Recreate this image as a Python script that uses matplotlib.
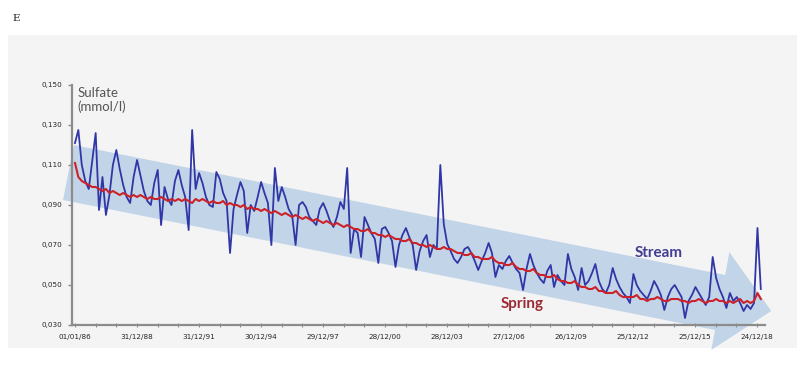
import matplotlib
matplotlib.use('Agg')
import matplotlib.pyplot as plt
import matplotlib.dates as mdates
from matplotlib.patches import Polygon, Rectangle
import pandas as pd

# Sulfate (mmol/l), one value every two months from Jan 1986 (Jan, Mar, May, Jul, Sep, Nov)
stream = [
    0.121, 0.1275, 0.110, 0.102, 0.098, 0.112,   # 1986
    0.126, 0.0875, 0.104, 0.085, 0.095, 0.110,   # 1987
    0.1175, 0.108, 0.100, 0.094, 0.091, 0.104,   # 1988
    0.1125, 0.105, 0.097, 0.092, 0.090, 0.101,   # 1989
    0.1075, 0.080, 0.099, 0.093, 0.090, 0.102,   # 1990
    0.1075, 0.100, 0.094, 0.0775, 0.1275, 0.098, # 1991
    0.106, 0.101, 0.094, 0.090, 0.089, 0.1065,   # 1992
    0.103, 0.096, 0.092, 0.066, 0.088, 0.095,    # 1993
    0.1015, 0.097, 0.076, 0.090, 0.087, 0.094,   # 1994
    0.1015, 0.096, 0.091, 0.070, 0.1085, 0.092,  # 1995
    0.099, 0.094, 0.088, 0.085, 0.070, 0.090,    # 1996
    0.0915, 0.089, 0.084, 0.082, 0.080, 0.088,   # 1997
    0.091, 0.087, 0.082, 0.079, 0.084, 0.0915,   # 1998
    0.088, 0.1085, 0.066, 0.078, 0.076, 0.064,   # 1999
    0.084, 0.080, 0.076, 0.073, 0.061, 0.078,    # 2000
    0.079, 0.076, 0.072, 0.059, 0.070, 0.075,    # 2001
    0.0785, 0.074, 0.070, 0.0575, 0.067, 0.072,  # 2002
    0.075, 0.064, 0.070, 0.068, 0.110, 0.0805,   # 2003
    0.0705, 0.067, 0.063, 0.061, 0.064, 0.068,   # 2004
    0.069, 0.066, 0.062, 0.0575, 0.062, 0.066,   # 2005
    0.071, 0.066, 0.054, 0.060, 0.058, 0.062,    # 2006
    0.0645, 0.061, 0.058, 0.056, 0.0475, 0.058,  # 2007
    0.0655, 0.060, 0.056, 0.053, 0.051, 0.057,   # 2008
    0.060, 0.049, 0.055, 0.052, 0.050, 0.0655,   # 2009
    0.058, 0.054, 0.0475, 0.0585, 0.050, 0.052,  # 2010
    0.056, 0.0605, 0.052, 0.048, 0.046, 0.050,   # 2011
    0.0585, 0.053, 0.049, 0.046, 0.044, 0.041,   # 2012
    0.0555, 0.050, 0.047, 0.045, 0.043, 0.047,   # 2013
    0.052, 0.049, 0.045, 0.0375, 0.044, 0.048,   # 2014
    0.050, 0.047, 0.044, 0.0335, 0.042, 0.045,   # 2015
    0.049, 0.046, 0.043, 0.040, 0.044, 0.064,    # 2016
    0.0535, 0.048, 0.044, 0.0385, 0.046, 0.042,  # 2017
    0.044, 0.041, 0.037, 0.040, 0.038, 0.041,    # 2018
    0.0785, 0.048,                               # 2019
]

spring = [
    0.111, 0.104, 0.102, 0.101, 0.100, 0.099,   # 1986
    0.099, 0.098, 0.097, 0.098, 0.096, 0.097,   # 1987
    0.096, 0.095, 0.096, 0.095, 0.094, 0.095,   # 1988
    0.094, 0.095, 0.094, 0.093, 0.094, 0.093,   # 1989
    0.093, 0.094, 0.093, 0.092, 0.093, 0.092,   # 1990
    0.093, 0.092, 0.093, 0.092, 0.091, 0.093,   # 1991
    0.092, 0.093, 0.092, 0.091, 0.092, 0.091,   # 1992
    0.091, 0.092, 0.090, 0.091, 0.090, 0.090,   # 1993
    0.089, 0.090, 0.088, 0.089, 0.088, 0.088,   # 1994
    0.087, 0.088, 0.087, 0.086, 0.087, 0.086,   # 1995
    0.085, 0.086, 0.085, 0.084, 0.085, 0.084,   # 1996
    0.083, 0.084, 0.083, 0.082, 0.083, 0.082,   # 1997
    0.081, 0.082, 0.081, 0.080, 0.081, 0.080,   # 1998
    0.079, 0.080, 0.079, 0.078, 0.078, 0.077,   # 1999
    0.077, 0.078, 0.076, 0.076, 0.075, 0.075,   # 2000
    0.074, 0.075, 0.074, 0.073, 0.073, 0.072,   # 2001
    0.072, 0.073, 0.071, 0.071, 0.070, 0.070,   # 2002
    0.069, 0.070, 0.069, 0.068, 0.068, 0.069,   # 2003
    0.068, 0.068, 0.067, 0.066, 0.066, 0.065,   # 2004
    0.065, 0.066, 0.064, 0.064, 0.063, 0.063,   # 2005
    0.063, 0.064, 0.062, 0.061, 0.061, 0.060,   # 2006
    0.060, 0.061, 0.059, 0.058, 0.058, 0.057,   # 2007
    0.057, 0.058, 0.056, 0.055, 0.055, 0.054,   # 2008
    0.054, 0.055, 0.053, 0.052, 0.052, 0.051,   # 2009
    0.051, 0.052, 0.050, 0.049, 0.049, 0.048,   # 2010
    0.048, 0.049, 0.047, 0.047, 0.046, 0.046,   # 2011
    0.046, 0.047, 0.045, 0.044, 0.044, 0.044,   # 2012
    0.044, 0.045, 0.043, 0.043, 0.042, 0.043,   # 2013
    0.043, 0.044, 0.043, 0.042, 0.042, 0.043,   # 2014
    0.043, 0.043, 0.042, 0.042, 0.041, 0.042,   # 2015
    0.042, 0.043, 0.042, 0.041, 0.042, 0.042,   # 2016
    0.043, 0.042, 0.042, 0.041, 0.042, 0.041,   # 2017
    0.042, 0.043, 0.041, 0.042, 0.041, 0.042,   # 2018
    0.046, 0.043,                               # 2019
]

tick_dates = ['1986-01-01', '1988-12-31', '1991-12-31', '1994-12-30', '1997-12-29', '2000-12-28',
              '2003-12-28', '2006-12-27', '2009-12-26', '2012-12-25', '2015-12-25', '2018-12-24']
tick_labels = ['01/01/86', '31/12/88', '31/12/91', '30/12/94', '29/12/97', '28/12/00',
               '28/12/03', '27/12/06', '26/12/09', '25/12/12', '25/12/15', '24/12/18']
y_ticks = [0.030, 0.050, 0.070, 0.090, 0.110, 0.130, 0.150]

# big trend arrow drawn behind the series (date, value)
arrow_pts = [('1985-12-14', 0.120), ('2017-06-10', 0.055), ('2017-08-22', 0.0665),
             ('2019-09-02', 0.037), ('2016-10-08', 0.0175), ('2016-12-13', 0.0275),
             ('1985-06-03', 0.0925)]

dates = pd.date_range('1986-01-01', periods=len(stream), freq='2MS')

fig = plt.figure(figsize=(8.04, 3.77), dpi=100)
fig.patch.set_facecolor('white')

# light grey panel behind the chart
fig.patches.append(Rectangle((8 / 804, 1 - 348 / 377), 789 / 804, 313 / 377,
                             transform=fig.transFigure, facecolor='#f4f4f5',
                             edgecolor='none', zorder=-5))
fig.text(0.016, 0.952, 'E', family='DejaVu Serif', fontsize=7.5, color='#222222',
         va='center', ha='left')

ax = fig.add_axes([72 / 804, 52 / 377, 693 / 804, 240 / 377])
ax.set_facecolor('none')

verts = [(mdates.date2num(pd.Timestamp(d)), v) for d, v in arrow_pts]
ax.add_patch(Polygon(verts, closed=True, facecolor='#a4c2e0', edgecolor='none',
                     alpha=0.62, clip_on=False, zorder=1))

ax.plot(dates, stream, color='#3036a6', lw=1.3, zorder=3)
ax.plot(dates, spring, color='#cc2229', lw=1.5, zorder=4)

ax.set_xlim(pd.Timestamp('1985-11-09'), pd.Timestamp('2019-05-14'))
ax.set_ylim(0.030, 0.150)

ax.set_xticks(pd.to_datetime(tick_dates))
ax.set_xticklabels(tick_labels)
ax.set_xticks(pd.date_range('1986-01-01', '2019-03-01', freq='365D'), minor=True)
ax.set_yticks(y_ticks)
ax.set_yticklabels([f'{v:.3f}'.replace('.', ',') for v in y_ticks])

for side in ['top', 'right']:
    ax.spines[side].set_visible(False)
for side in ['left', 'bottom']:
    ax.spines[side].set_color('#8c8c8c')
    ax.spines[side].set_linewidth(1.6)

ax.tick_params(axis='both', which='both', labelsize=5.2, colors='#8c8c8c', labelcolor='#262626')
ax.tick_params(axis='y', length=3, width=1, pad=4)
ax.tick_params(axis='x', which='both', direction='inout', length=3, width=0.8, pad=5)

ax.text(0.008, 0.99, 'Sulfate\n(mmol/l)', transform=ax.transAxes, va='top', ha='left',
        fontsize=9.5, family='Lato', color='#555555', linespacing=1.1)
ax.text(0.846, 0.30, 'Stream', transform=ax.transAxes, va='center', ha='center',
        fontsize=11, family='Lato', fontweight='bold', color='#433d92')
ax.text(0.650, 0.088, 'Spring', transform=ax.transAxes, va='center', ha='center',
        fontsize=11, family='Lato', fontweight='bold', color='#9b2a34')

fig.savefig('out.png', dpi=100)
